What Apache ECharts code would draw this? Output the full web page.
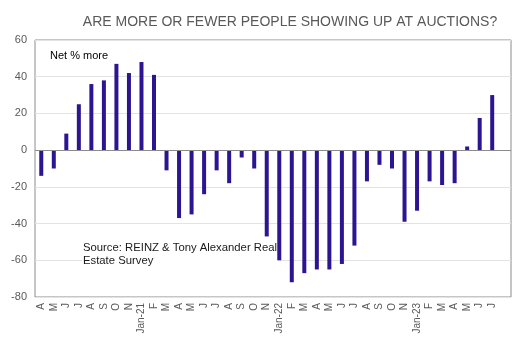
<!DOCTYPE html>
<html>
<head>
<meta charset="utf-8">
<script src="https://cdn.jsdelivr.net/npm/echarts@6/dist/echarts.min.js"></script>
<style>
  html, body { margin: 0; padding: 0; background: #fff; }
  #chart { width: 526px; height: 347px; }
</style>
</head>
<body>
<div id="chart"></div>
<script>
// Monthly survey readings, April 2020 to July 2023 (no December survey)
const months = ['A','M','J','J','A','S','O','N','Jan-21','F','M','A','M','J','J','A','S','O','N',
  'Jan-22','F','M','A','M','J','J','A','S','O','N','Jan-23','F','M','A','M','J','J',''];
const netMore = [-14,-10,9,25,36,38,47,42,48,41,-11,-37,-35,-24,-11,-18,-4,-10,-47,
  -60,-72,-67,-65,-65,-62,-52,-17,-8,-10,-39,-33,-17,-19,-18,2,17.5,30,null];
const yTicks = [-80, 60, 20];

const chart = echarts.init(document.getElementById('chart'), null, { renderer: 'canvas' });
const font = 'Liberation Sans, Arial, sans-serif';

chart.setOption({
  animation: false,
  backgroundColor: '#ffffff',
  title: {
    text: 'ARE MORE OR FEWER PEOPLE SHOWING UP AT AUCTIONS?',
    left: 285, top: 10, textAlign: 'center',
    textStyle: { fontFamily: font, fontSize: 14, fontWeight: 'normal', color: '#595959' }
  },
  graphic: [
    { type: 'text', left: 50, top: 50, z: 10,
      style: { text: 'Net % more', font: '11px ' + font, fill: '#000' } },
    // source note sits above the gridlines but beneath the bars
    { type: 'text', left: 82, top: 241, z: 1,
      style: { text: 'Source: REINZ & Tony Alexander Real\nEstate Survey', font: '11.3px ' + font,
               fill: '#1a1a1a', lineHeight: 13, backgroundColor: '#ffffff', padding: [0, 1, 0, 1] } }
  ],
  grid: { left: 35, top: 40, right: 15, bottom: 50, show: true,
          borderColor: '#8c8c8c', borderWidth: 1, backgroundColor: 'transparent' },
  xAxis: {
    type: 'category', data: months, boundaryGap: true,
    axisLine: { show: false }, axisTick: { show: false },
    axisLabel: { rotate: 90, interval: 0, margin: 6, color: '#595959',
                 fontFamily: font, fontSize: 10 }
  },
  yAxis: {
    type: 'value', min: yTicks[0], max: yTicks[1], interval: yTicks[2],
    axisLine: { show: false }, axisTick: { show: false },
    axisLabel: { color: '#595959', fontFamily: font, fontSize: 11, margin: 8 },
    splitLine: { lineStyle: { color: '#e3e3e3', width: 1 } }
  },
  series: [{
    type: 'bar', data: netMore, barWidth: 4, z: 3,
    itemStyle: { color: '#2d1490' },
    markLine: {
      silent: true, symbol: 'none', label: { show: false },
      lineStyle: { color: '#8c8c8c', type: 'solid', width: 1 },
      data: [{ yAxis: 0 }]
    }
  }]
});
</script>
</body>
</html>
